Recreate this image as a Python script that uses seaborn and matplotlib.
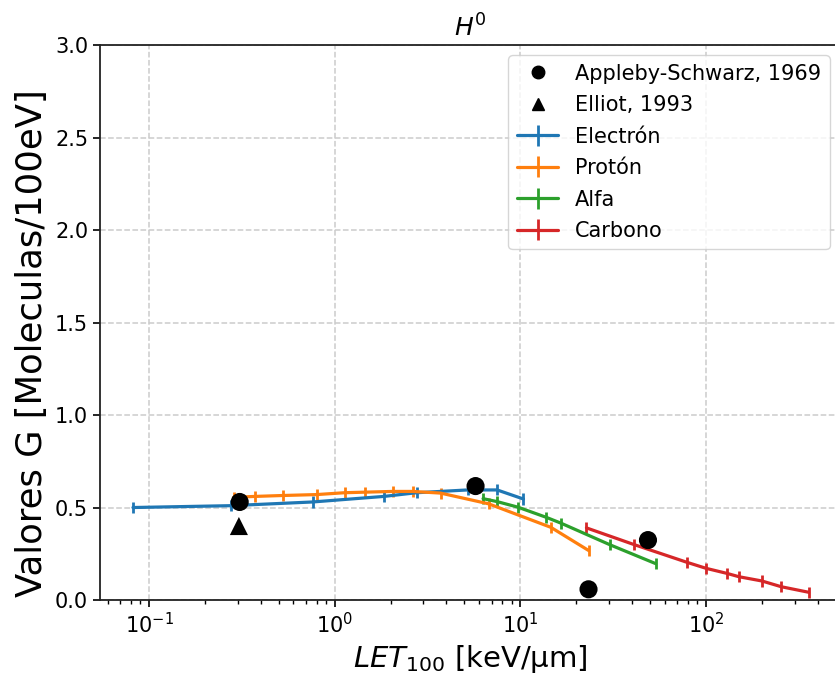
import numpy as np
import pandas as pd
import seaborn as sns
import matplotlib
matplotlib.use("Agg")
import matplotlib.pyplot as plt
from matplotlib.lines import Line2D

# G values of H0 versus LET for several particle types
electron_let = [0.082, 0.275, 0.76, 1.84, 2.76, 5.2, 7.5, 10.4]
electron_g = [0.50, 0.51, 0.53, 0.56, 0.58, 0.595, 0.595, 0.546]
electron_err = [0.03, 0.03, 0.03, 0.03, 0.03, 0.03, 0.03, 0.03]

proton_let = [0.286, 0.371, 0.525, 0.80, 1.13, 1.45, 2.05, 2.63, 3.72, 6.75, 14.6, 23.3]
proton_g = [0.555, 0.56, 0.565, 0.57, 0.58, 0.583, 0.587, 0.587, 0.578, 0.52, 0.393, 0.268]
proton_err = [0.03] * 12

alpha_let = [6.3, 7.5, 9.7, 13.8, 16.6, 30.5, 53.5]
alpha_g = [0.548, 0.532, 0.502, 0.447, 0.415, 0.298, 0.197]
alpha_err = [0.03] * 7

carbon_let = [22.7, 40.9, 78.9, 100.4, 129.7, 150.4, 200.0, 254.0, 357.0]
carbon_g = [0.39, 0.30, 0.204, 0.171, 0.144, 0.126, 0.103, 0.072, 0.042]
carbon_err = [0.03] * 9

appleby_let = [0.308, 5.74, 23.3, 48.7]
appleby_g = [0.53, 0.616, 0.058, 0.324]

elliot_let = [0.305]
elliot_g = [0.40]

series_names = ["Electrón", "Protón", "Alfa", "Carbono"]
exp_names = ["Appleby-Schwarz, 1969", "Elliot, 1993"]

sns.set_theme(style="ticks", rc={
    "text.color": "black",
    "axes.labelcolor": "black",
    "axes.edgecolor": "black",
    "xtick.color": "black",
    "ytick.color": "black",
})
plt.rcParams["font.family"] = ["DejaVu Sans"]
plt.rcParams["mathtext.fontset"] = "dejavusans"

fig = plt.figure(figsize=(8.35, 6.77), dpi=100)
# the plotting area runs slightly past the right edge of the canvas
ax = fig.add_axes([0.1198, 0.1137, 0.8862, 0.8198])

colors = sns.color_palette("tab10", 4)
sim = [
    (electron_let, electron_g, electron_err),
    (proton_let, proton_g, proton_err),
    (alpha_let, alpha_g, alpha_err),
    (carbon_let, carbon_g, carbon_err),
]

exp_df = pd.DataFrame({
    "LET": appleby_let + elliot_let,
    "G": appleby_g + elliot_g,
    "fuente": [exp_names[0]] * len(appleby_let) + [exp_names[1]] * len(elliot_let),
})

sns.scatterplot(data=exp_df, x="LET", y="G", style="fuente",
                markers={exp_names[0]: "o", exp_names[1]: "^"},
                color="black", s=170, edgecolor="none", ax=ax, legend=False, zorder=5)

handles = [
    Line2D([], [], marker="o", color="black", linestyle="none", markersize=9),
    Line2D([], [], marker="^", color="black", linestyle="none", markersize=9),
]

for (x, y, e), name, c in zip(sim, series_names, colors):
    cont = ax.errorbar(x, y, yerr=e, color=c, lw=2.3, elinewidth=2.0, capsize=0,
                       label=name, zorder=3)
    handles.append(cont)

ax.set_xscale("log")
ax.set_xlim(0.0545, 527)
ax.set_ylim(0, 3.0)
ax.set_yticks([0.0, 0.5, 1.0, 1.5, 2.0, 2.5, 3.0])
ax.grid(True, which="major", linestyle="--", color="#cccccc", linewidth=1.1)
ax.set_axisbelow(True)

for s in ax.spines.values():
    s.set_color("#222222")
    s.set_linewidth(1.3)
ax.tick_params(axis="both", which="major", labelsize=15, length=5, width=1.2,
               direction="out")
ax.tick_params(axis="x", which="minor", length=3, width=1.0)

ax.set_xlabel(r"$LET_{100}$ [keV/µm]", fontsize=21)
ax.set_ylabel("Valores G [Moleculas/100eV]", fontsize=25.5)
ax.yaxis.set_label_coords(-0.069, 0.463)
ax.set_title(r"$H^0$", fontsize=18)

ax.legend(handles, exp_names + series_names, loc="upper right", fontsize=15,
          frameon=True, framealpha=0.8, edgecolor="#cccccc", handlelength=2.0,
          labelspacing=0.55)

fig.savefig("out.png", dpi=100)
